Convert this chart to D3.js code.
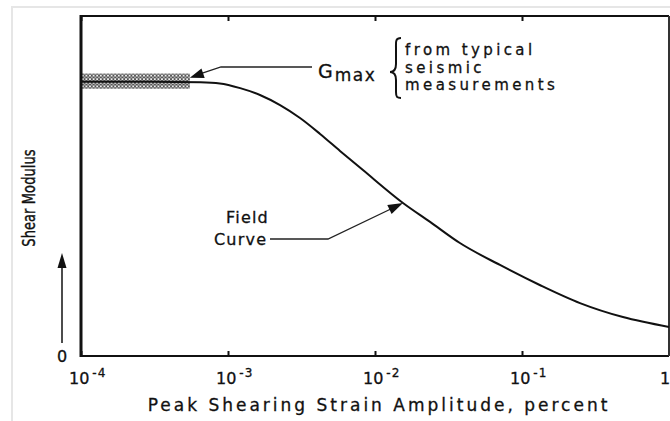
<!DOCTYPE html>
<html>
<head>
<meta charset="utf-8">
<script src="https://cdn.jsdelivr.net/npm/d3@7/dist/d3.min.js"></script>
<style>
  body { margin: 0; background: #fff; }
  text { font-family: "DejaVu Sans", sans-serif; fill: #111; stroke: #111; stroke-width: 0.3px; }
</style>
</head>
<body>
<script>
// strain decades on the x axis (percent)
var decades = [1e-4, 1e-3, 1e-2, 1e-1, 1];
var decadeExp = ["-4", "-3", "-2", "-1", ""];

// field curve: strain (percent) and G / Gmax
var strain = [1e-4, 3e-4, 6.5e-4, 8.8e-4, 1.21e-3, 1.65e-3, 2.26e-3, 3.09e-3, 4.23e-3,
              5.78e-3, 8.28e-3, 1.55e-2, 2.37e-2, 3.78e-2, 7.08e-2, 0.132, 0.248, 0.486, 1];
var modulus = [1.0, 1.0, 0.998, 0.994, 0.977, 0.952, 0.915, 0.868, 0.81,
               0.748, 0.678, 0.558, 0.489, 0.412, 0.332, 0.259, 0.193, 0.142, 0.106];

// band of Gmax from seismic measurements
var bandStrain = [1e-4, 5.5e-4];
var bandModulus = [0.975, 1.03];

var breedte = 670, hoogte = 421;
var marge = {boven: 16, rechts: 1, beneden: 65, links: 81};

var svg = d3.select("body").append("svg")
    .attr("width", breedte)
    .attr("height", hoogte);

// faint scan border
svg.append("path")
   .attr("d", "M12,421 V7 H670")
   .attr("fill", "none")
   .attr("stroke", "#e6e6e6")
   .attr("stroke-width", 2);

var x = d3.scaleLog()
    .domain([1e-4, 1])
    .range([marge.links, breedte - marge.rechts]);

var y = d3.scaleLinear()
    .domain([0, 1.24])
    .range([hoogte - marge.beneden, marge.boven]);

// dotted pattern for the band
var defs = svg.append("defs");
var pat = defs.append("pattern")
    .attr("id", "stip")
    .attr("width", 3.6)
    .attr("height", 3.6)
    .attr("patternUnits", "userSpaceOnUse");
pat.append("circle")
   .attr("cx", 1.8).attr("cy", 1.8).attr("r", 1.3)
   .attr("fill", "none")
   .attr("stroke", "#222")
   .attr("stroke-width", 0.9);

svg.append("rect")
   .attr("x", x(bandStrain[0]))
   .attr("y", y(bandModulus[1]))
   .attr("width", x(bandStrain[1]) - x(bandStrain[0]))
   .attr("height", y(bandModulus[0]) - y(bandModulus[1]))
   .attr("fill", "url(#stip)");

// ticks at the top and bottom, pointing inward
svg.append("g")
   .attr("transform", "translate(0," + y(0) + ")")
   .call(d3.axisBottom(x).tickValues(decades).tickSize(-5).tickFormat(""))
   .call(function(g) { g.select(".domain").remove(); })
   .selectAll("line").attr("stroke", "#111").attr("stroke-width", 2);

svg.append("g")
   .attr("transform", "translate(0," + y(1.24) + ")")
   .call(d3.axisTop(x).tickValues(decades).tickSize(-5).tickFormat(""))
   .call(function(g) { g.select(".domain").remove(); })
   .selectAll("line").attr("stroke", "#111").attr("stroke-width", 2);

// the box
var x0 = x(1e-4), x1 = x(1), y0 = y(0), y1 = y(1.24);
svg.append("line").attr("x1", x0).attr("x2", x0).attr("y1", y1 - 1).attr("y2", y0 + 1)
   .attr("stroke", "#111").attr("stroke-width", 3);
svg.append("line").attr("x1", x0).attr("x2", x1).attr("y1", y1).attr("y2", y1)
   .attr("stroke", "#111").attr("stroke-width", 2);
svg.append("line").attr("x1", x0).attr("x2", x1).attr("y1", y0).attr("y2", y0)
   .attr("stroke", "#111").attr("stroke-width", 2);
svg.append("line").attr("x1", x1).attr("x2", x1).attr("y1", y1).attr("y2", y0)
   .attr("stroke", "#333").attr("stroke-width", 2);

// tick labels: 10 with the exponent
var labels = svg.selectAll(".xlabel")
    .data(decades)
    .enter().append("text")
    .attr("class", "xlabel")
    .attr("x", function(d, i) { return decadeExp[i] ? x(d) - 12 : x(d) - 9; })
    .attr("y", y0 + 28)
    .attr("font-size", "16px");

labels.append("tspan")
    .text(function(d, i) { return decadeExp[i] ? "10" : "1"; });
labels.append("tspan")
    .attr("dx", 3)
    .attr("dy", -7)
    .attr("font-size", "12px")
    .attr("letter-spacing", "1px")
    .text(function(d, i) { return decadeExp[i]; });

// zero at the bottom of the y axis
svg.append("text")
   .attr("x", 62)
   .attr("y", y(0) + 6)
   .attr("text-anchor", "middle")
   .attr("font-size", "16px")
   .text("0");

// x-as titel
svg.append("text")
   .attr("x", 379)
   .attr("y", 411)
   .attr("text-anchor", "middle")
   .attr("font-size", "17px")
   .attr("letter-spacing", "3px")
   .text("Peak Shearing Strain Amplitude, percent");

// y-as titel
svg.append("text")
   .attr("transform", "translate(35,198) rotate(-90) scale(1,1.3)")
   .attr("text-anchor", "middle")
   .attr("font-size", "13px")
   .attr("letter-spacing", "0.1px")
   .text("Shear Modulus");

// pijl met gevulde punt
function pijl(xa, ya, xb, yb, lengte, half) {
  var hoek = Math.atan2(yb - ya, xb - xa);
  var bx = xb - lengte * Math.cos(hoek), by = yb - lengte * Math.sin(hoek);
  var px = -Math.sin(hoek) * half, py = Math.cos(hoek) * half;
  svg.append("path")
     .attr("d", "M" + xb + "," + yb + "L" + (bx + px) + "," + (by + py) + "L" + (bx - px) + "," + (by - py) + "Z")
     .attr("fill", "#111");
}

svg.append("line")
   .attr("x1", 62).attr("x2", 62).attr("y1", 343).attr("y2", 262)
   .attr("stroke", "#111").attr("stroke-width", 1.5);
pijl(62, 343, 62, 253, 15, 4.5);

// field curve
var lijn = d3.line()
    .x(function(d, i) { return x(strain[i]); })
    .y(function(d, i) { return y(modulus[i]); })
    .curve(d3.curveMonotoneX);

svg.append("path")
   .datum(strain)
   .attr("d", lijn)
   .attr("fill", "none")
   .attr("stroke", "#111")
   .attr("stroke-width", 2);

// Gmax annotation
var gTip = [x(5.5e-4), y(1.015)];
svg.append("path")
   .attr("d", "M312,67 H221 L" + (gTip[0] + 8) + "," + (gTip[1] - 3))
   .attr("fill", "none")
   .attr("stroke", "#222")
   .attr("stroke-width", 1.3);
pijl(221, 67, gTip[0], gTip[1], 14, 5);

var gText = svg.append("text")
    .attr("x", 318)
    .attr("y", 78)
    .attr("font-size", "19px");
gText.append("tspan").text("G");
gText.append("tspan")
    .attr("dx", 2)
    .attr("dy", 3)
    .attr("font-size", "17px")
    .attr("letter-spacing", "1.5px")
    .text("max");

// accolade
svg.append("path")
   .attr("d", "M401,38 C395,38 396,42 396,48 L396,64 C396,70 394,72 390,72 C394,72 396,74 396,80 L396,92 C396,97 397,98 401,98")
   .attr("fill", "none")
   .attr("stroke", "#111")
   .attr("stroke-width", 2);

var bron = ["from typical", "seismic", "measurements"];
svg.selectAll(".bron")
   .data(bron)
   .enter().append("text")
   .attr("class", "bron")
   .attr("x", 405)
   .attr("y", function(d, i) { return 55 + i * 17.5; })
   .attr("font-size", "15px")
   .attr("letter-spacing", "3.4px")
   .text(function(d) { return d; });

// Field Curve annotation
var fTip = [x(1.55e-2), y(0.558)];
svg.append("path")
   .attr("d", "M270,239 H328 L" + (fTip[0] - 8) + "," + (fTip[1] + 4))
   .attr("fill", "none")
   .attr("stroke", "#222")
   .attr("stroke-width", 1.3);
pijl(328, 239, fTip[0], fTip[1], 15, 5);

svg.append("text")
   .attr("x", 226)
   .attr("y", 223)
   .attr("font-size", "16px")
   .attr("letter-spacing", "1.2px")
   .text("Field");
svg.append("text")
   .attr("x", 214)
   .attr("y", 245)
   .attr("font-size", "16px")
   .attr("letter-spacing", "1.2px")
   .text("Curve");
</script>
</body>
</html>
